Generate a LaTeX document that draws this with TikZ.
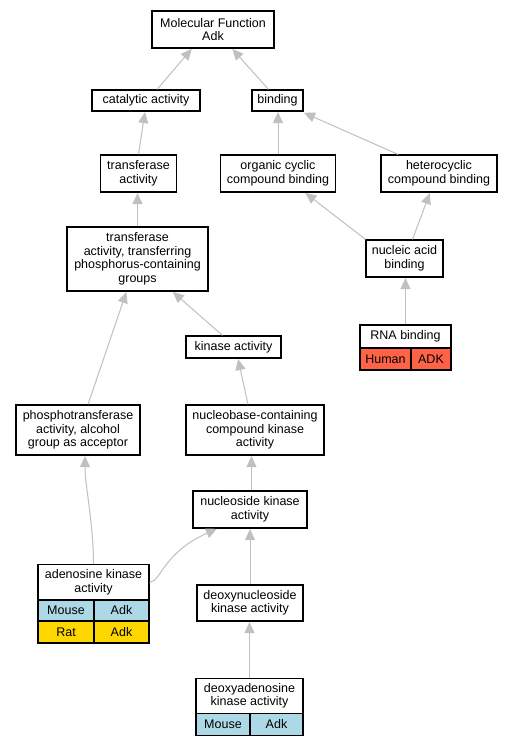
\documentclass[tikz,border=0pt]{standalone}
\usepackage{fontspec}
\setmainfont{Liberation Sans}
\usetikzlibrary{arrows.meta,calc}
\definecolor{edgegray}{RGB}{192,192,192}
\definecolor{cellblue}{RGB}{173,216,230}
\definecolor{cellgold}{RGB}{255,215,0}
\definecolor{celltomato}{RGB}{255,99,71}
\begin{document}
\begin{tikzpicture}[x=1pt,y=-1pt,
  term/.style={draw=black,line width=1.2pt,fill=white,inner sep=0pt,align=center,
    font=\fontsize{12.5}{13.5}\selectfont},
  cell/.style={term},
  edge/.style={draw=edgegray,line width=1pt,-{Triangle[length=11pt,width=10pt]},shorten >=0.5pt}]
\useasboundingbox (0,0) rectangle (512,747);
\fill[white] (0,0) rectangle (512,747);

\node[term,minimum width=122pt,minimum height=37pt] (mf) at (213,29.5) {Molecular Function\\Adk};
\node[term,minimum width=108pt,minimum height=21pt] (cat) at (146,100.5) {catalytic activity};
\node[term,minimum width=51pt,minimum height=21pt] (bind) at (277.5,100.5) {binding};
\node[term,minimum width=76pt,minimum height=37pt] (trans) at (138.5,173.5) {transferase\\activity};
\node[term,minimum width=115pt,minimum height=37pt] (ocb) at (278,173.5) {organic cyclic\\compound binding};
\node[term,minimum width=116pt,minimum height=37pt] (hcb) at (439,173.5) {heterocyclic\\compound binding};
\node[term,minimum width=141pt,minimum height=64pt] (tpcg) at (137.5,259) {transferase\\activity, transferring\\phosphorus-containing\\groups};
\node[term,minimum width=77pt,minimum height=37pt] (nab) at (404.5,258.5) {nucleic acid\\binding};
\node[term,minimum width=95pt,minimum height=22pt] (kin) at (233.5,347) {kinase activity};
% RNA binding table
\node[cell,minimum width=91pt,minimum height=23pt] (rna) at (405.5,336.5) {RNA binding};
\node[cell,fill=celltomato,minimum width=51pt,minimum height=22pt] (rnahuman) at (385.5,359) {Human};
\node[cell,fill=celltomato,minimum width=40pt,minimum height=22pt] (rnaadk) at (431,359) {ADK};
\node[term,minimum width=124pt,minimum height=50pt] (pta) at (78,430) {phosphotransferase\\activity, alcohol\\group as acceptor};
\node[term,minimum width=138pt,minimum height=50pt] (nbc) at (255,430) {nucleobase-containing\\compound kinase\\activity};
\node[term,minimum width=114pt,minimum height=37pt] (nsk) at (250,509.5) {nucleoside kinase\\activity};
% adenosine kinase table
\node[cell,minimum width=111pt,minimum height=36pt] (ak) at (93.5,582.5) {adenosine kinase\\activity};
\node[cell,fill=cellblue,minimum width=56pt,minimum height=21pt] (akmouse) at (66,610.5) {Mouse};
\node[cell,fill=cellblue,minimum width=55pt,minimum height=21pt] (akadk1) at (121.5,610.5) {Adk};
\node[cell,fill=cellgold,minimum width=56pt,minimum height=22pt] (akrat) at (66,632) {Rat};
\node[cell,fill=cellgold,minimum width=55pt,minimum height=22pt] (akadk2) at (121.5,632) {Adk};
\node[term,minimum width=106pt,minimum height=36pt] (dnk) at (250,603) {deoxynucleoside\\kinase activity};
% deoxyadenosine kinase table
\node[cell,minimum width=107pt,minimum height=35pt] (dak) at (249.5,696) {deoxyadenosine\\kinase activity};
\node[cell,fill=cellblue,minimum width=54pt,minimum height=22pt] (dakmouse) at (223,724.5) {Mouse};
\node[cell,fill=cellblue,minimum width=53pt,minimum height=22pt] (dakadk) at (276.5,724.5) {Adk};

% edges
\draw[edge] ($(cat.north)+(11,0)$) -- ($(mf.south)+(-21,0)$);
\draw[edge] ($(bind.north)+(-9,0)$) -- ($(mf.south)+(19,0)$);
\draw[edge] ($(trans.north)+(0,0)$) -- ($(cat.south)+(-1,0)$);
\draw[edge] (ocb.north) -- (ocb.north |- bind.south);
\draw[edge] ($(hcb.north)+(-41,0)$) -- ($(bind.south east)+(0,1)$);
\draw[edge] (tpcg.north) -- (tpcg.north |- trans.south);
\draw[edge] ($(nab.north west)+(0,0)$) -- ($(ocb.south)+(27,0)$);
\draw[edge] ($(nab.north)+(8,0)$) -- ($(hcb.south)+(-9,0)$);
\draw[edge] ($(kin.north)+(-11,0)$) -- ($(tpcg.south)+(35,0)$);
\draw[edge] (rna.north) -- (rna.north |- nab.south);
\draw[edge] ($(pta.north)+(10,0)$) -- ($(tpcg.south)+(-11,0)$);
\draw[edge] ($(nbc.north)+(-7,0)$) -- ($(kin.south)+(4.5,0)$);
\draw[edge] ($(nsk.north)+(1.5,0)$) -- ($(nbc.south)+(-3.5,0)$);
\draw[edge] (ak.north) .. controls ($(ak.north)+(0,-40)$) and ($(pta.south)+(7,30)$) .. ($(pta.south)+(7,0)$);
\draw[edge] (ak.east) .. controls ($(ak.east)+(12,-2)$) and ($(ak.east)+(14,-30)$) .. ($(nsk.south west)+(25,0)$);
\draw[edge] (dnk.north) -- (dnk.north |- nsk.south);
\draw[edge] (dak.north) -- (dak.north |- dnk.south);
\end{tikzpicture}
\end{document}
